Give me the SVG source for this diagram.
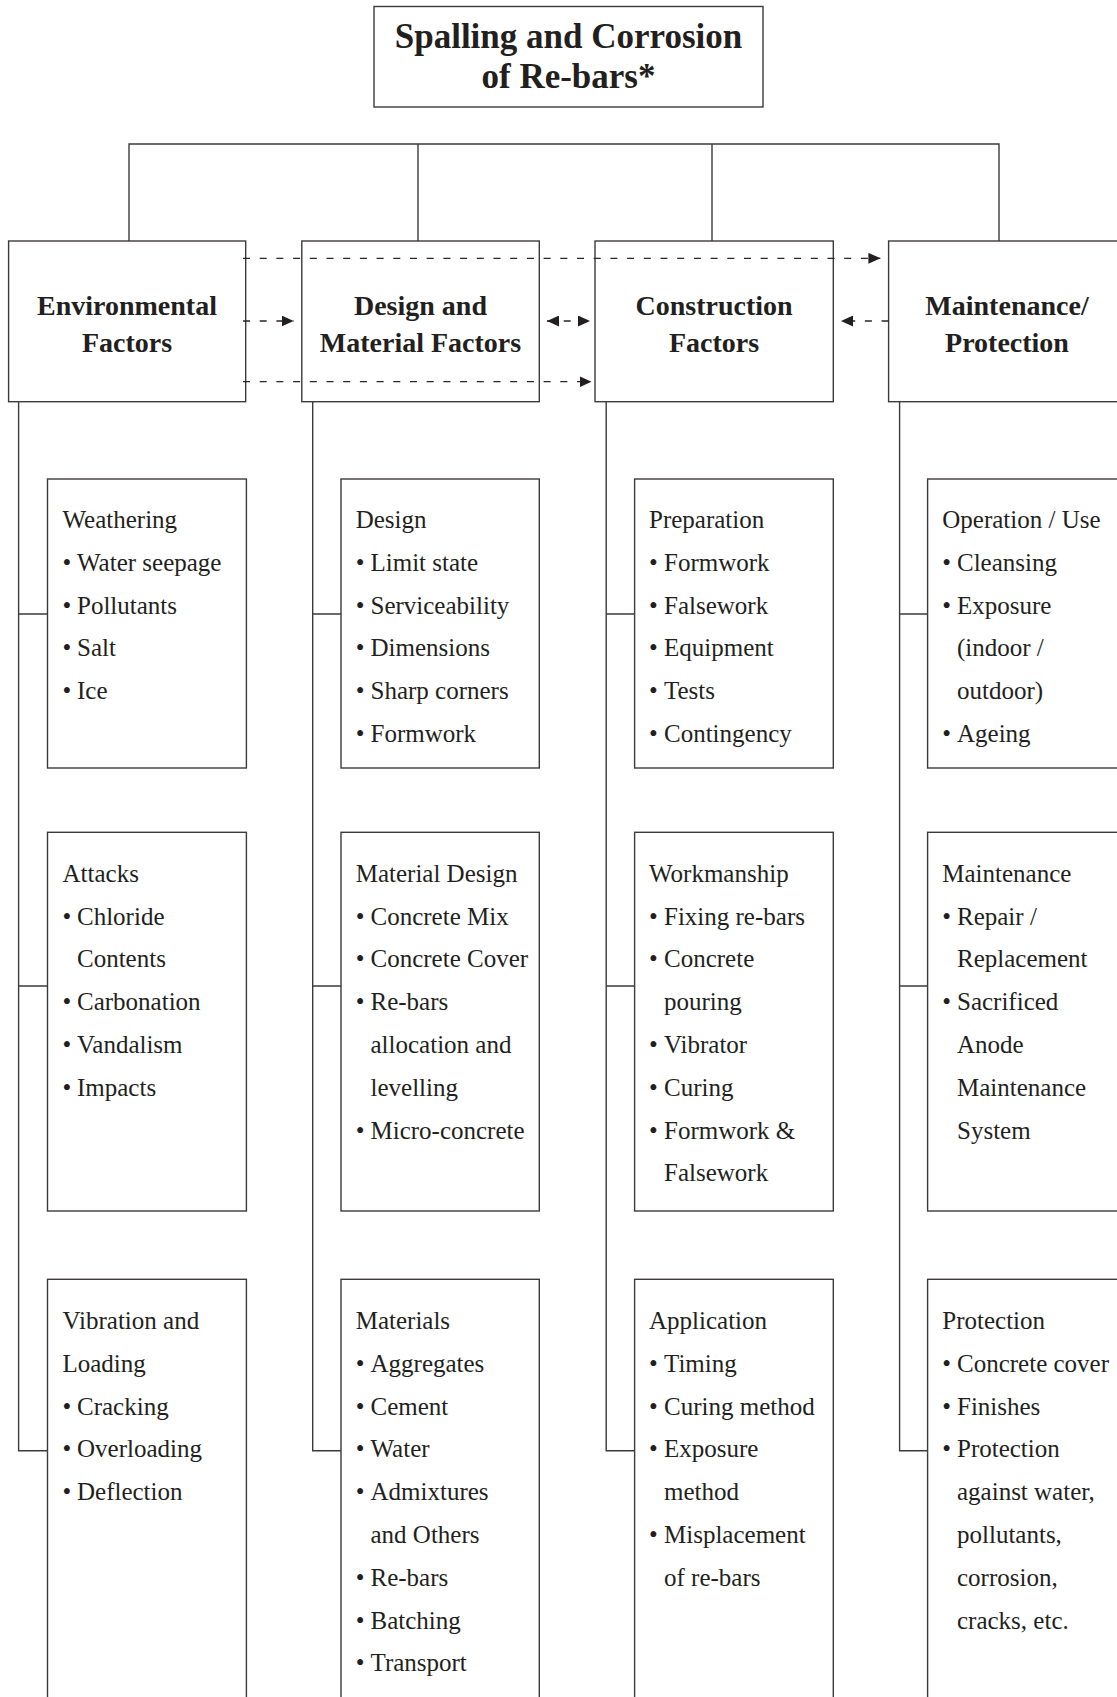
<svg xmlns="http://www.w3.org/2000/svg" width="1117" height="1697" viewBox="0 0 1117 1697">
  <style>
    .box { fill: #ffffff; stroke: #3f3a3a; stroke-width: 1.4; }
    .tree { fill: none; stroke: #3f3a3a; stroke-width: 1.4; }
    .dash { fill: none; stroke: #2a2526; stroke-width: 1.3; stroke-dasharray: 7 9.7; }
    .title { font-family: "Liberation Serif", "DejaVu Serif", serif; font-weight: bold; font-size: 35px; fill: #231f20; text-anchor: middle; }
    .head { font-family: "Liberation Serif", "DejaVu Serif", serif; font-weight: bold; font-size: 28px; fill: #231f20; text-anchor: middle; }
    .item { font-family: "Liberation Serif", "DejaVu Serif", serif; font-size: 25px; fill: #231f20; }
  </style>
  <defs>
    <marker id="arrow" viewBox="0 0 12 11" refX="12" refY="5.5" markerWidth="12" markerHeight="11" markerUnits="userSpaceOnUse" orient="auto-start-reverse">
      <path d="M0,0 L12,5.5 L0,11 z" fill="#231f20"/>
    </marker>
  </defs>

  <rect width="1117" height="1697" fill="#ffffff"/>

  <!-- root -->
  <g id="root">
    <rect class="box" x="374" y="6.5" width="389" height="100.5"/>
    <text class="title" x="568.5" y="48">Spalling and Corrosion</text>
    <text class="title" x="568.5" y="88">of Re-bars*</text>
  </g>

  <!-- tree lines: root bar and column spines -->
  <g id="connectors">
    <path class="tree" d="M129,241 V144 H999 V241 M418,144 V241 M712,144 V241"/>
    <path class="tree" d="M18.6,401.7 V1450.7 H47.5 M18.6,614 H47.5 M18.6,986 H47.5"/>
    <path class="tree" d="M312.7,401.7 V1450.7 H341 M312.7,614 H341 M312.7,986 H341"/>
    <path class="tree" d="M606.2,401.7 V1450.7 H634.6 M606.2,614 H634.6 M606.2,986 H634.6"/>
    <path class="tree" d="M899.6,401.7 V1450.7 H927.6 M899.6,614 H927.6 M899.6,986 H927.6"/>
  </g>

  <!-- level 1 -->
  <g id="environmental">
    <rect class="box" x="8.6" y="241" width="237.1" height="160.7"/>
    <text class="head" x="127" y="315">Environmental</text>
    <text class="head" x="127" y="351.7">Factors</text>
  </g>
  <g id="design-material">
    <rect class="box" x="301.8" y="241" width="237.5" height="160.7"/>
    <text class="head" x="420.5" y="315">Design and</text>
    <text class="head" x="420.5" y="351.7">Material Factors</text>
  </g>
  <g id="construction">
    <rect class="box" x="595" y="241" width="238.3" height="160.7"/>
    <text class="head" x="714" y="315">Construction</text>
    <text class="head" x="714" y="351.7">Factors</text>
  </g>
  <g id="maintenance">
    <rect class="box" x="888.6" y="241" width="240" height="160.7"/>
    <text class="head" x="1007" y="315">Maintenance/</text>
    <text class="head" x="1007" y="351.7">Protection</text>
  </g>

  <!-- level 2: environmental -->
  <g id="weathering">
    <rect class="box" x="47.5" y="479" width="198.9" height="289"/>
    <text class="item"><tspan x="62.5" y="528">Weathering</tspan><tspan x="62.5" y="570.8">•</tspan><tspan x="77" y="570.8">Water seepage</tspan><tspan x="62.5" y="613.6">•</tspan><tspan x="77" y="613.6">Pollutants</tspan><tspan x="62.5" y="656.4">•</tspan><tspan x="77" y="656.4">Salt</tspan><tspan x="62.5" y="699.2">•</tspan><tspan x="77" y="699.2">Ice</tspan></text>
  </g>
  <g id="attacks">
    <rect class="box" x="47.5" y="832.3" width="198.9" height="378.7"/>
    <text class="item"><tspan x="62.5" y="881.7">Attacks</tspan><tspan x="62.5" y="924.5">•</tspan><tspan x="77" y="924.5">Chloride</tspan><tspan x="77" y="967.3">Contents</tspan><tspan x="62.5" y="1010.1">•</tspan><tspan x="77" y="1010.1">Carbonation</tspan><tspan x="62.5" y="1052.9">•</tspan><tspan x="77" y="1052.9">Vandalism</tspan><tspan x="62.5" y="1095.7">•</tspan><tspan x="77" y="1095.7">Impacts</tspan></text>
  </g>
  <g id="vibration-loading">
    <rect class="box" x="47.5" y="1279.3" width="198.9" height="440"/>
    <text class="item"><tspan x="62.5" y="1329">Vibration and</tspan><tspan x="62.5" y="1371.8">Loading</tspan><tspan x="62.5" y="1414.6">•</tspan><tspan x="77" y="1414.6">Cracking</tspan><tspan x="62.5" y="1457.4">•</tspan><tspan x="77" y="1457.4">Overloading</tspan><tspan x="62.5" y="1500.2">•</tspan><tspan x="77" y="1500.2">Deflection</tspan></text>
  </g>

  <!-- level 2: design and material -->
  <g id="design">
    <rect class="box" x="341" y="479" width="198.3" height="289"/>
    <text class="item"><tspan x="355.7" y="528">Design</tspan><tspan x="355.7" y="570.8">•</tspan><tspan x="370.5" y="570.8">Limit state</tspan><tspan x="355.7" y="613.6">•</tspan><tspan x="370.5" y="613.6">Serviceability</tspan><tspan x="355.7" y="656.4">•</tspan><tspan x="370.5" y="656.4">Dimensions</tspan><tspan x="355.7" y="699.2">•</tspan><tspan x="370.5" y="699.2">Sharp corners</tspan><tspan x="355.7" y="742">•</tspan><tspan x="370.5" y="742">Formwork</tspan></text>
  </g>
  <g id="material-design">
    <rect class="box" x="341" y="832.3" width="198.3" height="378.7"/>
    <text class="item"><tspan x="355.7" y="881.7">Material Design</tspan><tspan x="355.7" y="924.5">•</tspan><tspan x="370.5" y="924.5">Concrete Mix</tspan><tspan x="355.7" y="967.3">•</tspan><tspan x="370.5" y="967.3">Concrete Cover</tspan><tspan x="355.7" y="1010.1">•</tspan><tspan x="370.5" y="1010.1">Re-bars</tspan><tspan x="370.5" y="1052.9">allocation and</tspan><tspan x="370.5" y="1095.7">levelling</tspan><tspan x="355.7" y="1138.5">•</tspan><tspan x="370.5" y="1138.5">Micro-concrete</tspan></text>
  </g>
  <g id="materials">
    <rect class="box" x="341" y="1279.3" width="198.3" height="440"/>
    <text class="item"><tspan x="355.7" y="1329">Materials</tspan><tspan x="355.7" y="1371.8">•</tspan><tspan x="370.5" y="1371.8">Aggregates</tspan><tspan x="355.7" y="1414.6">•</tspan><tspan x="370.5" y="1414.6">Cement</tspan><tspan x="355.7" y="1457.4">•</tspan><tspan x="370.5" y="1457.4">Water</tspan><tspan x="355.7" y="1500.2">•</tspan><tspan x="370.5" y="1500.2">Admixtures</tspan><tspan x="370.5" y="1543">and Others</tspan><tspan x="355.7" y="1585.8">•</tspan><tspan x="370.5" y="1585.8">Re-bars</tspan><tspan x="355.7" y="1628.6">•</tspan><tspan x="370.5" y="1628.6">Batching</tspan><tspan x="355.7" y="1671.4">•</tspan><tspan x="370.5" y="1671.4">Transport</tspan></text>
  </g>

  <!-- level 2: construction -->
  <g id="preparation">
    <rect class="box" x="634.6" y="479" width="198.7" height="289"/>
    <text class="item"><tspan x="649" y="528">Preparation</tspan><tspan x="649" y="570.8">•</tspan><tspan x="664" y="570.8">Formwork</tspan><tspan x="649" y="613.6">•</tspan><tspan x="664" y="613.6">Falsework</tspan><tspan x="649" y="656.4">•</tspan><tspan x="664" y="656.4">Equipment</tspan><tspan x="649" y="699.2">•</tspan><tspan x="664" y="699.2">Tests</tspan><tspan x="649" y="742">•</tspan><tspan x="664" y="742">Contingency</tspan></text>
  </g>
  <g id="workmanship">
    <rect class="box" x="634.6" y="832.3" width="198.7" height="378.7"/>
    <text class="item"><tspan x="649" y="881.7">Workmanship</tspan><tspan x="649" y="924.5">•</tspan><tspan x="664" y="924.5">Fixing re-bars</tspan><tspan x="649" y="967.3">•</tspan><tspan x="664" y="967.3">Concrete</tspan><tspan x="664" y="1010.1">pouring</tspan><tspan x="649" y="1052.9">•</tspan><tspan x="664" y="1052.9">Vibrator</tspan><tspan x="649" y="1095.7">•</tspan><tspan x="664" y="1095.7">Curing</tspan><tspan x="649" y="1138.5">•</tspan><tspan x="664" y="1138.5">Formwork &amp;</tspan><tspan x="664" y="1181.3">Falsework</tspan></text>
  </g>
  <g id="application">
    <rect class="box" x="634.6" y="1279.3" width="198.7" height="440"/>
    <text class="item"><tspan x="649" y="1329">Application</tspan><tspan x="649" y="1371.8">•</tspan><tspan x="664" y="1371.8">Timing</tspan><tspan x="649" y="1414.6">•</tspan><tspan x="664" y="1414.6">Curing method</tspan><tspan x="649" y="1457.4">•</tspan><tspan x="664" y="1457.4">Exposure</tspan><tspan x="664" y="1500.2">method</tspan><tspan x="649" y="1543">•</tspan><tspan x="664" y="1543">Misplacement</tspan><tspan x="664" y="1585.8">of re-bars</tspan></text>
  </g>

  <!-- level 2: maintenance / protection -->
  <g id="operation-use">
    <rect class="box" x="927.6" y="479" width="200" height="289"/>
    <text class="item"><tspan x="942.3" y="528">Operation / Use</tspan><tspan x="942.3" y="570.8">•</tspan><tspan x="957" y="570.8">Cleansing</tspan><tspan x="942.3" y="613.6">•</tspan><tspan x="957" y="613.6">Exposure</tspan><tspan x="957" y="656.4">(indoor /</tspan><tspan x="957" y="699.2">outdoor)</tspan><tspan x="942.3" y="742">•</tspan><tspan x="957" y="742">Ageing</tspan></text>
  </g>
  <g id="maintenance-work">
    <rect class="box" x="927.6" y="832.3" width="200" height="378.7"/>
    <text class="item"><tspan x="942.3" y="881.7">Maintenance</tspan><tspan x="942.3" y="924.5">•</tspan><tspan x="957" y="924.5">Repair /</tspan><tspan x="957" y="967.3">Replacement</tspan><tspan x="942.3" y="1010.1">•</tspan><tspan x="957" y="1010.1">Sacrificed</tspan><tspan x="957" y="1052.9">Anode</tspan><tspan x="957" y="1095.7">Maintenance</tspan><tspan x="957" y="1138.5">System</tspan></text>
  </g>
  <g id="protection">
    <rect class="box" x="927.6" y="1279.3" width="200" height="440"/>
    <text class="item"><tspan x="942.3" y="1329">Protection</tspan><tspan x="942.3" y="1371.8">•</tspan><tspan x="957" y="1371.8">Concrete cover</tspan><tspan x="942.3" y="1414.6">•</tspan><tspan x="957" y="1414.6">Finishes</tspan><tspan x="942.3" y="1457.4">•</tspan><tspan x="957" y="1457.4">Protection</tspan><tspan x="957" y="1500.2">against water,</tspan><tspan x="957" y="1543">pollutants,</tspan><tspan x="957" y="1585.8">corrosion,</tspan><tspan x="957" y="1628.6">cracks, etc.</tspan></text>
  </g>

  <!-- dashed influence arrows between the factor groups -->
  <g id="influences">
    <path class="dash" d="M243,258.3 H880.4" marker-end="url(#arrow)"/>
    <path class="dash" d="M243,321 H293.6" marker-end="url(#arrow)"/>
    <path class="dash" d="M547,321 H590" marker-start="url(#arrow)" marker-end="url(#arrow)"/>
    <path class="dash" d="M888.6,321 H841" marker-end="url(#arrow)"/>
    <path class="dash" d="M243,381.7 H591.5" marker-end="url(#arrow)"/>
  </g>
</svg>
